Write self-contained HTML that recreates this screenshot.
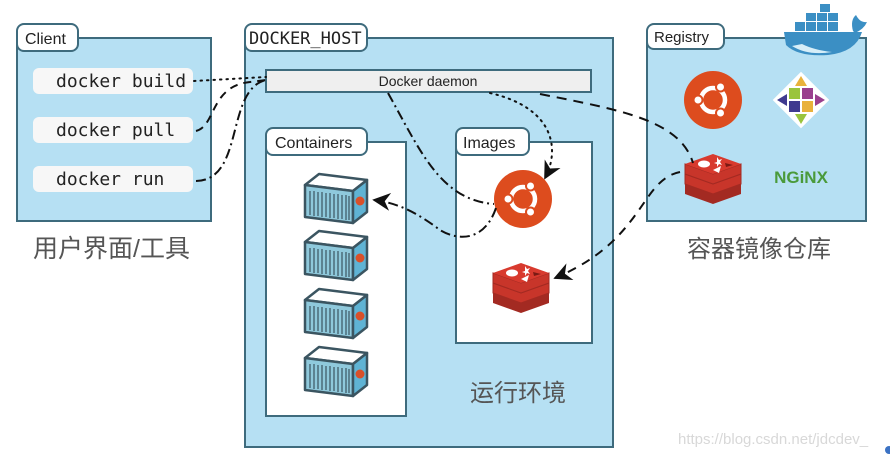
<!DOCTYPE html>
<html><head><meta charset="utf-8"><style>
html,body{margin:0;padding:0;background:#fff;width:890px;height:456px;overflow:hidden}
svg{display:block}
.mono{font-family:"DejaVu Sans Mono","Liberation Mono",monospace}
.sans{font-family:"Liberation Sans",sans-serif}
.cjk{font-family:"Liberation Sans","Noto Sans CJK SC",sans-serif}
</style></head><body>
<svg width="890" height="456" viewBox="0 0 890 456" xmlns="http://www.w3.org/2000/svg">
<defs>
<marker id="ah" viewBox="0 0 10 10" refX="9" refY="5" markerWidth="9" markerHeight="9" orient="auto-start-reverse"><path d="M0,0 L10,5 L0,10 L3,5z" fill="#111"/></marker>
<g id="cont">
  <path d="M3,14 L17,3 L65,9 L51,20z" fill="#fff" stroke="#3b5561" stroke-width="2.5" stroke-linejoin="round"/>
  <path d="M3,14 L51,20 L51,52 L3,46z" fill="#8fc9dc" stroke="#3b5561" stroke-width="2.5" stroke-linejoin="round"/>
  <path d="M51,20 L65,9 L65,41 L51,52z" fill="#5fb3d4" stroke="#3b5561" stroke-width="2.5" stroke-linejoin="round"/>
  <g stroke="#3b5561" stroke-width="1.2">
    <line x1="8" y1="20" x2="8" y2="44"/><line x1="12" y1="20" x2="12" y2="45"/><line x1="16" y1="21" x2="16" y2="45"/><line x1="20" y1="21" x2="20" y2="46"/><line x1="24" y1="22" x2="24" y2="46"/><line x1="28" y1="22" x2="28" y2="47"/><line x1="32" y1="23" x2="32" y2="47"/><line x1="36" y1="23" x2="36" y2="48"/><line x1="40" y1="24" x2="40" y2="48"/><line x1="44" y1="24" x2="44" y2="49"/><line x1="47" y1="25" x2="47" y2="49"/>
  </g>
  <circle cx="58" cy="30" r="4.5" fill="#d9502a"/>
</g>
<g id="ubu">
  <circle r="29" fill="#dd4c1e"/>
  <circle r="12" fill="none" stroke="#fff" stroke-width="4.5"/>
  <circle cx="-15" cy="0" r="4.5" fill="#fff" stroke="#dd4c1e" stroke-width="2"/>
  <circle cx="7.5" cy="-13" r="4.5" fill="#fff" stroke="#dd4c1e" stroke-width="2"/>
  <circle cx="7.5" cy="13" r="4.5" fill="#fff" stroke="#dd4c1e" stroke-width="2"/>
</g>
<g id="redis">
  <path d="M-28,8 L0,18 L28,8 L28,18 L0,28 L-28,18z" fill="#a32a22"/>
  <path d="M-28,-2 L0,8 L28,-2 L28,8 L0,18 L-28,8z" fill="#c8352a" stroke="#a32a22" stroke-width="1"/>
  <path d="M-28,-12 L0,-2 L28,-12 L28,-2 L0,8 L-28,-2z" fill="#c8352a" stroke="#a32a22" stroke-width="1"/>
  <path d="M-28,-12 L0,-22 L28,-12 L0,-2z" fill="#d83a2e"/>
  <ellipse cx="-9" cy="-12" rx="6" ry="3.5" fill="#fff"/>
  <path d="M4,-19 l2,3 l3,-1 l-2,3 l2,3 l-3,-1 l-2,3 l0,-3 l-3,-1 l3,-1z" fill="#fff"/>
  <path d="M0,-6 L8,-10 L6,-3z" fill="#fff"/>
  <path d="M12,-13 L20,-11 L13,-9z" fill="#7a1a14"/>
</g>
</defs>

<!-- Client -->
<rect x="17" y="38" width="194" height="183" fill="#b6e0f3" stroke="#3e6b7d" stroke-width="2"/>
<rect x="17" y="24" width="61" height="27" rx="7" fill="#fff" stroke="#3e6b7d" stroke-width="2"/>
<text x="25" y="44" class="sans" font-size="16" fill="#222">Client</text>
<rect x="33" y="68" width="160" height="26" rx="6" fill="#f7f7f7"/>
<rect x="33" y="117" width="160" height="26" rx="6" fill="#f7f7f7"/>
<rect x="33" y="166" width="160" height="26" rx="6" fill="#f7f7f7"/>
<text x="56" y="87" class="mono" font-size="18" fill="#222">docker build</text>
<text x="56" y="136" class="mono" font-size="18" fill="#222">docker pull</text>
<text x="56" y="185" class="mono" font-size="18" fill="#222">docker run</text>
<text x="33" y="257" class="cjk" font-size="25" fill="#555">用户界面/工具</text>

<!-- Docker host -->
<rect x="245" y="38" width="368" height="409" fill="#b6e0f3" stroke="#3e6b7d" stroke-width="2"/>
<rect x="245" y="24" width="122" height="27" rx="7" fill="#fff" stroke="#3e6b7d" stroke-width="2"/>
<text x="249" y="44" class="mono" font-size="17" fill="#222">DOCKER_HOST</text>
<rect x="266" y="70" width="325" height="22" fill="#efefef" stroke="#3e6b7d" stroke-width="2"/>
<text x="428" y="86" text-anchor="middle" class="sans" font-size="14" fill="#222">Docker daemon</text>

<rect x="266" y="142" width="140" height="274" fill="#fff" stroke="#3e6b7d" stroke-width="2"/>
<rect x="266" y="128" width="101" height="27" rx="7" fill="#fff" stroke="#3e6b7d" stroke-width="2"/>
<text x="275" y="148" class="sans" font-size="16" fill="#222">Containers</text>
<use href="#cont" x="302" y="171"/>
<use href="#cont" x="302" y="228"/>
<use href="#cont" x="302" y="286"/>
<use href="#cont" x="302" y="344"/>

<rect x="456" y="142" width="136" height="201" fill="#fff" stroke="#3e6b7d" stroke-width="2"/>
<rect x="456" y="128" width="73" height="27" rx="7" fill="#fff" stroke="#3e6b7d" stroke-width="2"/>
<text x="463" y="148" class="sans" font-size="16" fill="#222">Images</text>
<use href="#ubu" x="523" y="199"/>
<use href="#redis" x="521" y="285"/>
<text x="470" y="401" class="cjk" font-size="24" fill="#555">运行环境</text>

<!-- Registry -->
<rect x="647" y="38" width="219" height="183" fill="#b6e0f3" stroke="#3e6b7d" stroke-width="2"/>
<rect x="647" y="24" width="77" height="25" rx="7" fill="#fff" stroke="#3e6b7d" stroke-width="2"/>
<text x="654" y="42" class="sans" font-size="15" fill="#222">Registry</text>
<!-- whale -->
<g fill="#3b8fc4">
  <path d="M784,32 L862,32 Q856,52 828,55 Q798,57 786,45z"/>
  <path d="M792,46 Q808,56 832,52 Q814,50 802,44z" fill="#d6eef8"/>
  <rect x="795" y="22" width="10" height="9"/><rect x="806" y="22" width="10" height="9"/><rect x="817" y="22" width="10" height="9"/><rect x="828" y="22" width="10" height="9"/>
  <rect x="806" y="13" width="10" height="8"/><rect x="817" y="13" width="10" height="8"/><rect x="828" y="13" width="10" height="8"/>
  <rect x="820" y="4" width="10" height="8"/>
  <path d="M853,31 Q850,20 856,15 Q860,23 867,22 Q864,29 855,33z"/>
</g>
<use href="#ubu" x="713" y="100"/>
<g transform="translate(801,100)">
  <rect x="-20" y="-20" width="40" height="40" transform="rotate(45)" fill="#fff"/>
  <rect x="-12" y="-12" width="11" height="11" fill="#9ac43c"/><rect x="1" y="-12" width="11" height="11" fill="#9a3f8e"/>
  <rect x="-12" y="1" width="11" height="11" fill="#3f3a8f"/><rect x="1" y="1" width="11" height="11" fill="#e9b23b"/>
  <path d="M-6,-14 L0,-24 L6,-14z" fill="#e9b23b"/><path d="M14,-6 L24,0 L14,6z" fill="#9a3f8e"/>
  <path d="M-6,14 L0,24 L6,14z" fill="#9ac43c"/><path d="M-14,-6 L-24,0 L-14,6z" fill="#3f3a8f"/>
</g>
<use href="#redis" x="713" y="176"/>
<text x="801" y="183" text-anchor="middle" class="sans" font-size="17" font-weight="bold" fill="#4a9a3a">NGiNX</text>
<text x="687" y="257" class="cjk" font-size="24" fill="#555">容器镜像仓库</text>

<!-- connectors -->
<g fill="none" stroke="#111" stroke-width="2">
  <path d="M194,81 L266,77" stroke-dasharray="1.5 5" stroke-linecap="round"/>
  <path d="M196,131 C216,126 210,86 250,82 L266,80" stroke-dasharray="8 6"/>
  <path d="M196,181 C245,180 225,90 266,80" stroke-dasharray="10 4 2 4"/>
  <path d="M388,93 C420,150 440,200 494,204" stroke-dasharray="10 4 2 4"/>
  <path d="M496,208 C485,240 460,242 440,230 C420,215 400,203 374,200" stroke-dasharray="10 4 2 4" marker-end="url(#ah)"/>
  <path d="M490,93 C555,108 560,150 545,178" stroke-dasharray="1.5 5" stroke-linecap="round" marker-end="url(#ah)"/>
  <path d="M540,94 C620,110 680,120 693,163" stroke-dasharray="10 7"/>
  <path d="M680,172 C640,180 645,240 555,278" stroke-dasharray="9 7" marker-end="url(#ah)"/>
</g>

<text x="678" y="444" class="sans" font-size="15" fill="#d8d8d8">https://blog.csdn.net/jdcdev_</text>
<circle cx="889" cy="450" r="4" fill="#3b72c4"/>
</svg>
</body></html>
